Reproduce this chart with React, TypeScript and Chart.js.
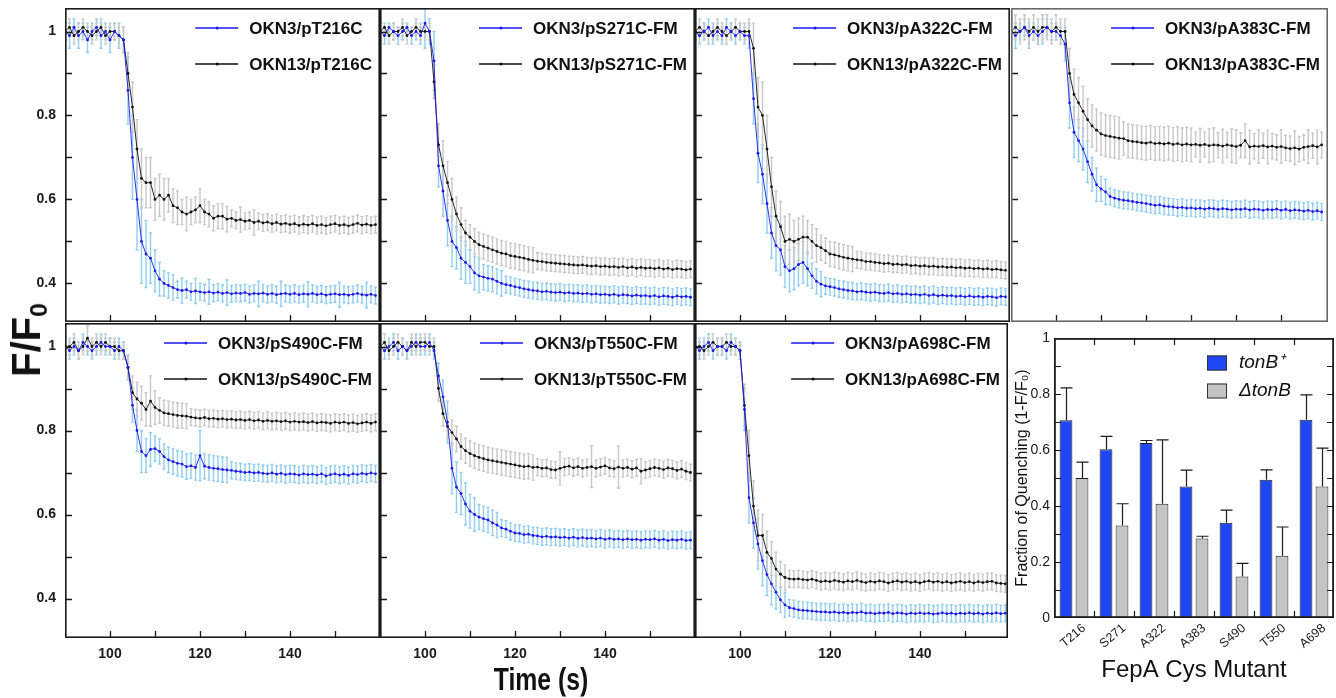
import React, { useEffect, useRef } from "react";
import { Chart, registerables } from "chart.js";

Chart.register(...registerables);

// ---------- shared axes ----------
const TIME = [
  90, 91, 92, 93, 94, 95, 96, 97, 98, 99,
  100, 101, 102, 103, 104, 105, 106, 107, 108, 109,
  110, 111, 112, 113, 114, 115, 116, 117, 118, 119,
  120, 121, 122, 123, 124, 125, 126, 127, 128, 129,
  130, 131, 132, 133, 134, 135, 136, 137, 138, 139,
  140, 141, 142, 143, 144, 145, 146, 147, 148, 149,
  150, 151, 152, 153, 154, 155, 156, 157, 158, 159,
];
const X_LABEL_VALUES = [100, 120, 140];
const X_LABELS = ["100", "120", "140"];
const X_TICK_MARKS = [100, 110, 120, 130, 140, 150];
const Y_LABEL_VALUES = [0.4, 0.6, 0.8, 1];
const Y_LABELS = ["0.4", "0.6", "0.8", "1"];
const Y_TICK_MARKS = [0.4, 0.5, 0.6, 0.7, 0.8, 0.9, 1.0];

// ---------- T216 ----------
const T216_OKN3 = [
  1.00, 0.99, 1.01, 0.99, 1.00, 0.98, 1.00, 1.01, 0.99, 1.00,
  0.98, 1.00, 0.99, 0.98, 0.86, 0.70, 0.60, 0.50, 0.47, 0.46,
  0.43, 0.41, 0.40, 0.395, 0.39, 0.385, 0.383, 0.385, 0.38, 0.382,
  0.38, 0.378, 0.38, 0.377, 0.379, 0.376, 0.378, 0.375, 0.377, 0.376,
  0.378, 0.374, 0.376, 0.375, 0.377, 0.374, 0.376, 0.373, 0.375, 0.376,
  0.374, 0.376, 0.373, 0.375, 0.374, 0.376, 0.373, 0.375, 0.372, 0.374,
  0.375, 0.373, 0.374, 0.372, 0.374, 0.376, 0.373, 0.372, 0.374, 0.371,
];
const T216_OKN3_ERR = [
  2, 3, 2, 3, 2, 3, 2, 2, 3, 2,
  3, 2, 3, 3, 8, 10, 12, 10, 8, 6,
  5, 4, 3, 3, 3, 2, 3, 2, 2, 3,
  2, 2, 3, 2, 2, 2, 3, 2, 2, 2,
  2, 2, 2, 3, 2, 2, 2, 2, 3, 2,
  2, 2, 2, 2, 3, 2, 2, 2, 2, 2,
  2, 3, 2, 2, 2, 2, 2, 3, 2, 2,
];
const T216_OKN13 = [
  1.00, 1.01, 0.99, 1.00, 1.01, 1.00, 0.99, 1.00, 1.01, 0.99,
  1.00, 1.00, 0.99, 0.98, 0.90, 0.82, 0.72, 0.65, 0.64, 0.64,
  0.60, 0.61, 0.60, 0.61, 0.585, 0.58, 0.57, 0.565, 0.57, 0.575,
  0.585, 0.57, 0.565, 0.555, 0.56, 0.56, 0.553, 0.555, 0.55, 0.552,
  0.548, 0.55, 0.545, 0.548, 0.544, 0.546, 0.542, 0.545, 0.541, 0.543,
  0.54, 0.542, 0.538, 0.541, 0.539, 0.542, 0.538, 0.54, 0.537, 0.54,
  0.542, 0.538, 0.54, 0.537, 0.54, 0.543, 0.539, 0.541, 0.538, 0.54,
];
const T216_OKN13_ERR = [
  2, 2, 2, 2, 2, 2, 2, 2, 2, 2,
  2, 2, 2, 3, 5, 6, 7, 7, 6, 6,
  5, 5, 5, 4, 4, 4, 3, 4, 3, 3,
  4, 3, 3, 3, 3, 3, 3, 2, 2, 3,
  2, 2, 3, 2, 2, 2, 2, 2, 2, 2,
  2, 2, 2, 2, 2, 2, 2, 2, 2, 2,
  2, 2, 2, 2, 2, 2, 2, 2, 2, 2,
];

// ---------- S271 ----------
const S271_OKN3 = [
  1.00, 0.99, 1.01, 1.00, 0.99, 1.00, 1.01, 0.99, 1.00, 0.99,
  1.02, 1.00, 0.93, 0.68, 0.62, 0.55, 0.50, 0.485, 0.46, 0.45,
  0.44, 0.425, 0.418, 0.415, 0.412, 0.41, 0.405, 0.40, 0.397, 0.395,
  0.392, 0.39, 0.387, 0.385, 0.383, 0.382, 0.38, 0.381, 0.379, 0.378,
  0.379, 0.377, 0.378, 0.376, 0.377, 0.375, 0.376, 0.374, 0.375, 0.373,
  0.374, 0.372, 0.374, 0.371, 0.373, 0.372, 0.37, 0.372, 0.37, 0.371,
  0.369, 0.371, 0.368, 0.37, 0.369, 0.367, 0.37, 0.368, 0.369, 0.367,
];
const S271_OKN3_ERR = [
  2, 2, 1, 2, 2, 2, 1, 2, 2, 2,
  6, 3, 7, 5, 6, 6, 6, 5, 5, 5,
  4, 4, 4, 3, 3, 3, 3, 3, 2, 2,
  2, 2, 2, 2, 2, 2, 2, 2, 2, 2,
  2, 2, 2, 2, 2, 2, 2, 2, 2, 2,
  2, 2, 2, 2, 2, 2, 2, 2, 2, 2,
  2, 2, 2, 2, 2, 2, 2, 2, 2, 2,
];
const S271_OKN13 = [
  1.00, 1.01, 0.99, 1.00, 1.00, 1.01, 0.99, 1.00, 1.01, 1.00,
  1.00, 1.00, 0.88, 0.73, 0.68, 0.64, 0.60, 0.565, 0.54, 0.52,
  0.51, 0.50, 0.492, 0.488, 0.484, 0.48, 0.476, 0.472, 0.47, 0.466,
  0.464, 0.462, 0.46, 0.457, 0.455, 0.453, 0.452, 0.45, 0.449, 0.448,
  0.447, 0.446, 0.445, 0.444, 0.443, 0.444, 0.442, 0.441, 0.442, 0.44,
  0.441, 0.439, 0.44, 0.438, 0.44, 0.437, 0.439, 0.436, 0.438, 0.436,
  0.437, 0.435, 0.437, 0.434, 0.436, 0.433, 0.435, 0.434, 0.432, 0.434,
];
const S271_OKN13_ERR = [
  2, 1, 2, 2, 1, 2, 2, 1, 2, 2,
  2, 2, 4, 5, 6, 5, 5, 4, 4, 3,
  3, 3, 3, 3, 3, 3, 3, 3, 3, 3,
  3, 3, 3, 3, 3, 2, 2, 2, 2, 2,
  2, 2, 2, 2, 2, 2, 2, 2, 2, 2,
  2, 2, 2, 2, 2, 2, 2, 2, 2, 2,
  2, 2, 2, 2, 2, 2, 2, 2, 2, 2,
];

// ---------- A322 ----------
const A322_OKN3 = [
  1.00, 0.99, 1.00, 1.01, 0.99, 1.00, 0.99, 1.01, 1.00, 0.99,
  1.00, 0.99, 0.99, 0.84, 0.71, 0.66, 0.59, 0.52, 0.49, 0.48,
  0.44, 0.43, 0.435, 0.445, 0.45, 0.435, 0.418, 0.405, 0.398, 0.394,
  0.392, 0.39, 0.387, 0.385, 0.383, 0.382, 0.38, 0.381, 0.379, 0.378,
  0.379, 0.377, 0.376, 0.378, 0.375, 0.376, 0.374, 0.375, 0.373, 0.374,
  0.372, 0.374, 0.371, 0.373, 0.37, 0.372, 0.37, 0.371, 0.369, 0.37,
  0.368, 0.37, 0.368, 0.369, 0.367, 0.369, 0.368, 0.366, 0.369, 0.368,
];
const A322_OKN3_ERR = [
  2, 2, 2, 2, 2, 2, 2, 2, 2, 2,
  2, 2, 3, 6, 7, 7, 7, 6, 6, 6,
  5, 5, 5, 5, 5, 4, 3, 3, 3, 2,
  2, 2, 2, 2, 2, 2, 2, 2, 2, 2,
  2, 2, 2, 2, 2, 2, 2, 2, 2, 2,
  2, 2, 2, 2, 2, 2, 2, 2, 2, 2,
  2, 2, 2, 2, 2, 2, 2, 2, 2, 2,
];
const A322_OKN13 = [
  1.00, 1.01, 1.00, 0.99, 1.00, 1.01, 1.00, 0.99, 1.00, 1.01,
  1.00, 1.00, 1.00, 0.96, 0.82, 0.80, 0.72, 0.63, 0.56, 0.535,
  0.50, 0.505, 0.50, 0.505, 0.51, 0.51, 0.50, 0.49, 0.485, 0.478,
  0.47, 0.468, 0.465, 0.462, 0.46, 0.458, 0.456, 0.455, 0.452, 0.452,
  0.45, 0.449, 0.447, 0.448, 0.445, 0.446, 0.444, 0.445, 0.442, 0.443,
  0.441, 0.442, 0.44, 0.441, 0.439, 0.44, 0.438, 0.439, 0.437, 0.438,
  0.436, 0.437, 0.435, 0.436, 0.434, 0.435, 0.433, 0.434, 0.432, 0.431,
];
const A322_OKN13_ERR = [
  2, 2, 2, 2, 2, 2, 2, 2, 2, 2,
  2, 2, 3, 6, 7, 8, 8, 7, 6, 6,
  6, 6, 5, 5, 5, 4, 4, 4, 3, 3,
  3, 3, 3, 3, 3, 3, 2, 2, 2, 2,
  2, 2, 2, 2, 2, 2, 2, 2, 2, 2,
  2, 2, 2, 2, 2, 2, 2, 2, 2, 2,
  2, 2, 2, 2, 2, 2, 2, 2, 2, 2,
];

// ---------- A383 ----------
const A383_OKN3 = [
  1.00, 0.99, 1.00, 1.01, 0.99, 1.00, 0.99, 1.00, 1.01, 1.00,
  1.00, 0.99, 0.97, 0.83, 0.76, 0.74, 0.72, 0.69, 0.66, 0.635,
  0.625, 0.618, 0.607, 0.603, 0.60, 0.598, 0.597, 0.595, 0.593, 0.592,
  0.59, 0.588, 0.586, 0.587, 0.584, 0.583, 0.582, 0.58, 0.581, 0.579,
  0.58, 0.578, 0.579, 0.577, 0.579, 0.578, 0.576, 0.578, 0.577, 0.575,
  0.577, 0.576, 0.578, 0.575, 0.577, 0.576, 0.574, 0.576, 0.575, 0.577,
  0.574, 0.576, 0.573, 0.575, 0.574, 0.572, 0.574, 0.571, 0.573, 0.57,
];
const A383_OKN3_ERR = [
  2, 3, 2, 2, 3, 2, 2, 3, 2, 2,
  2, 2, 4, 6, 6, 5, 5, 5, 4, 4,
  3, 3, 2, 2, 2, 2, 2, 2, 2, 2,
  2, 2, 2, 2, 2, 2, 2, 2, 2, 2,
  2, 2, 2, 2, 2, 2, 2, 2, 2, 2,
  2, 2, 2, 2, 2, 2, 2, 2, 2, 2,
  2, 2, 2, 2, 2, 2, 2, 2, 2, 2,
];
const A383_OKN13 = [
  1.00, 1.01, 1.00, 1.01, 1.00, 1.01, 1.00, 1.01, 1.01, 1.00,
  1.01, 1.00, 1.00, 0.90, 0.85, 0.83, 0.81, 0.79, 0.775, 0.765,
  0.756, 0.752, 0.75, 0.748, 0.746, 0.745, 0.74, 0.738, 0.737, 0.735,
  0.734, 0.736, 0.733, 0.734, 0.732, 0.734, 0.731, 0.733, 0.73, 0.732,
  0.73, 0.731, 0.729, 0.731, 0.728, 0.73, 0.729, 0.727, 0.73, 0.728,
  0.726, 0.729, 0.74, 0.725, 0.727, 0.726, 0.728, 0.725, 0.727, 0.724,
  0.726, 0.723, 0.721, 0.723, 0.72, 0.724, 0.726, 0.728, 0.725, 0.73,
];
const A383_OKN13_ERR = [
  3, 3, 3, 3, 3, 3, 3, 3, 3, 3,
  3, 3, 3, 6, 6, 6, 6, 5, 5, 5,
  5, 5, 5, 5, 5, 4, 4, 4, 4, 4,
  4, 4, 4, 4, 4, 4, 4, 4, 4, 4,
  4, 3, 4, 3, 4, 4, 3, 4, 3, 4,
  4, 3, 4, 4, 3, 4, 3, 4, 3, 3,
  4, 3, 3, 4, 3, 3, 4, 3, 4, 3,
];

// ---------- S490 ----------
const S490_OKN3 = [
  1.00, 0.99, 1.00, 0.99, 1.01, 1.00, 0.99, 1.00, 1.01, 1.00,
  1.00, 0.99, 1.00, 0.99, 0.95, 0.86, 0.80, 0.75, 0.74, 0.755,
  0.757, 0.75, 0.738, 0.73, 0.726, 0.722, 0.72, 0.714, 0.716, 0.712,
  0.74, 0.715, 0.712, 0.71, 0.709, 0.707, 0.706, 0.705, 0.703, 0.702,
  0.70, 0.701, 0.699, 0.70, 0.698, 0.697, 0.699, 0.696, 0.698, 0.695,
  0.697, 0.696, 0.694, 0.697, 0.695, 0.696, 0.694, 0.697, 0.692, 0.695,
  0.697, 0.694, 0.696, 0.693, 0.697, 0.695, 0.698, 0.696, 0.699, 0.697,
];
const S490_OKN3_ERR = [
  2, 2, 2, 2, 2, 2, 2, 2, 2, 2,
  2, 2, 2, 2, 3, 4, 5, 5, 4, 4,
  3, 3, 3, 3, 3, 3, 3, 3, 3, 3,
  6, 3, 3, 3, 3, 3, 3, 2, 2, 2,
  2, 2, 2, 2, 2, 2, 2, 2, 2, 2,
  2, 2, 2, 2, 2, 2, 2, 2, 2, 2,
  2, 2, 2, 2, 2, 2, 2, 2, 2, 2,
];
const S490_OKN13 = [
  1.00, 1.00, 1.01, 0.99, 1.00, 1.02, 1.00, 1.01, 1.00, 1.01,
  1.00, 1.00, 0.99, 0.99, 0.95, 0.89, 0.875, 0.865, 0.85, 0.87,
  0.855, 0.848, 0.842, 0.84, 0.838, 0.836, 0.835, 0.834, 0.832, 0.83,
  0.829, 0.831, 0.828, 0.829, 0.827, 0.828, 0.826, 0.827, 0.825, 0.826,
  0.824, 0.826, 0.823, 0.825, 0.822, 0.824, 0.822, 0.823, 0.821, 0.823,
  0.82, 0.822, 0.82, 0.821, 0.819, 0.821, 0.818, 0.82, 0.819, 0.817,
  0.82, 0.818, 0.82, 0.817, 0.819, 0.816, 0.818, 0.82, 0.817, 0.82,
];
const S490_OKN13_ERR = [
  2, 2, 2, 2, 2, 3, 2, 2, 2, 2,
  2, 2, 2, 2, 3, 4, 4, 4, 4, 6,
  4, 3, 3, 3, 3, 3, 3, 3, 2, 2,
  2, 2, 2, 2, 2, 2, 2, 2, 2, 2,
  2, 2, 2, 2, 2, 2, 2, 2, 2, 2,
  2, 2, 2, 2, 2, 2, 2, 2, 2, 2,
  2, 2, 2, 2, 2, 2, 2, 2, 2, 2,
];

// ---------- T550 ----------
const T550_OKN3 = [
  1.00, 0.99, 1.00, 1.01, 0.99, 1.00, 0.99, 1.00, 1.01, 1.00,
  1.00, 1.01, 0.99, 0.93, 0.88, 0.82, 0.71, 0.665, 0.65, 0.625,
  0.608, 0.60, 0.594, 0.59, 0.587, 0.58, 0.575, 0.568, 0.565, 0.56,
  0.556, 0.555, 0.552, 0.553, 0.55, 0.549, 0.547, 0.548, 0.546, 0.547,
  0.545, 0.546, 0.544, 0.546, 0.543, 0.545, 0.543, 0.544, 0.542, 0.544,
  0.541, 0.543, 0.541, 0.542, 0.54, 0.542, 0.54, 0.541, 0.539, 0.541,
  0.54, 0.542, 0.539, 0.541, 0.538, 0.54, 0.539, 0.541, 0.538, 0.539,
];
const T550_OKN3_ERR = [
  2, 2, 2, 2, 2, 2, 2, 2, 2, 2,
  2, 2, 2, 3, 4, 5, 6, 6, 5, 5,
  4, 4, 3, 3, 3, 3, 3, 2, 2, 2,
  2, 2, 2, 2, 2, 2, 2, 2, 2, 2,
  2, 2, 2, 2, 2, 2, 2, 2, 2, 2,
  2, 2, 2, 2, 2, 2, 2, 2, 2, 2,
  2, 2, 2, 2, 2, 2, 2, 2, 2, 2,
];
const T550_OKN13 = [
  1.00, 1.01, 0.99, 1.00, 1.01, 1.00, 0.99, 1.01, 1.00, 1.01,
  1.01, 1.00, 1.00, 0.90, 0.84, 0.81, 0.795, 0.78, 0.762, 0.752,
  0.745, 0.74, 0.736, 0.733, 0.73, 0.728, 0.726, 0.724, 0.722, 0.72,
  0.718, 0.716, 0.714, 0.715, 0.712, 0.713, 0.71, 0.711, 0.707, 0.706,
  0.71, 0.713, 0.715, 0.711, 0.714, 0.71, 0.712, 0.714, 0.71, 0.713,
  0.716, 0.711, 0.709, 0.713, 0.71, 0.712, 0.708, 0.711, 0.703, 0.706,
  0.709, 0.712, 0.71, 0.707, 0.711, 0.709, 0.705, 0.708, 0.703, 0.70,
];
const T550_OKN13_ERR = [
  2, 2, 2, 2, 2, 2, 2, 2, 2, 2,
  2, 2, 2, 3, 3, 3, 3, 3, 3, 3,
  3, 3, 3, 3, 3, 3, 3, 3, 3, 3,
  3, 3, 3, 3, 3, 2, 2, 2, 2, 2,
  4, 2, 2, 2, 2, 2, 2, 5, 2, 2,
  2, 2, 2, 5, 2, 2, 2, 2, 3, 2,
  2, 2, 2, 2, 2, 2, 2, 2, 2, 2,
];

// ---------- A698 ----------
const A698_OKN3 = [
  1.00, 0.99, 1.00, 1.01, 0.99, 1.00, 1.00, 0.99, 1.01, 1.00,
  0.99, 0.85, 0.64, 0.58, 0.53, 0.49, 0.457, 0.435, 0.415, 0.397,
  0.385, 0.378, 0.376, 0.373, 0.372, 0.371, 0.37, 0.369, 0.368, 0.368,
  0.367, 0.368, 0.366, 0.367, 0.365, 0.367, 0.366, 0.368, 0.365, 0.366,
  0.364, 0.366, 0.365, 0.367, 0.364, 0.366, 0.365, 0.363, 0.365, 0.364,
  0.366, 0.364, 0.365, 0.363, 0.364, 0.366, 0.364, 0.365, 0.363, 0.365,
  0.364, 0.366, 0.364, 0.365, 0.363, 0.365, 0.364, 0.366, 0.364, 0.365,
];
const A698_OKN3_ERR = [
  2, 2, 2, 2, 2, 2, 2, 2, 2, 2,
  2, 5, 6, 6, 6, 6, 5, 5, 4, 3,
  3, 2, 2, 2, 2, 2, 2, 2, 2, 2,
  2, 2, 2, 2, 2, 2, 2, 2, 2, 2,
  2, 2, 2, 2, 2, 2, 2, 2, 2, 2,
  2, 2, 2, 2, 2, 2, 2, 2, 2, 2,
  2, 2, 2, 2, 2, 2, 2, 2, 2, 2,
];
const A698_OKN13 = [
  1.00, 1.00, 0.99, 1.00, 1.01, 1.00, 1.00, 1.01, 1.00, 1.00,
  0.99, 0.86, 0.74, 0.62, 0.55, 0.55, 0.51, 0.495, 0.47, 0.458,
  0.45, 0.447, 0.446, 0.447, 0.445, 0.444, 0.446, 0.443, 0.44, 0.442,
  0.44, 0.443, 0.441, 0.439, 0.442, 0.44, 0.443, 0.44, 0.438, 0.441,
  0.439, 0.442, 0.44, 0.437, 0.44, 0.442, 0.439, 0.441, 0.438, 0.44,
  0.437, 0.44, 0.442, 0.439, 0.441, 0.438, 0.44, 0.437, 0.439, 0.441,
  0.438, 0.44, 0.437, 0.44, 0.438, 0.44, 0.441, 0.437, 0.436, 0.435,
];
const A698_OKN13_ERR = [
  2, 2, 2, 2, 2, 2, 2, 2, 2, 2,
  2, 5, 6, 6, 6, 5, 5, 4, 4, 3,
  3, 2, 2, 2, 2, 2, 2, 2, 2, 2,
  2, 2, 2, 2, 2, 2, 2, 2, 2, 2,
  2, 2, 2, 2, 2, 2, 2, 2, 2, 2,
  2, 2, 2, 2, 2, 2, 2, 2, 2, 2,
  2, 2, 2, 2, 2, 2, 2, 2, 2, 2,
];

// ---------- bar chart ----------
const MUTANTS = ["T216", "S271", "A322", "A383", "S490", "T550", "A698"];
const TONB_PLUS = [0.706, 0.603, 0.625, 0.47, 0.34, 0.494, 0.708];
const TONB_PLUS_ERR = [0.116, 0.046, 0.009, 0.058, 0.045, 0.035, 0.089];
const DELTA_TONB = [0.5, 0.33, 0.408, 0.284, 0.148, 0.222, 0.47];
const DELTA_TONB_ERR = [0.057, 0.078, 0.228, 0.008, 0.047, 0.103, 0.137];
const BAR_Y_LABEL_VALUES = [0, 0.2, 0.4, 0.6, 0.8, 1];
const BAR_Y_LABELS = ["0", "0.2", "0.4", "0.6", "0.8", "1"];
const BAR_Y_TICK_MARKS = [0.1, 0.2, 0.3, 0.4, 0.5, 0.6, 0.7, 0.8, 0.9];

// ---------- styling ----------
const SANS = "'Liberation Sans', Arial, sans-serif";
const BLUE = "#1a1aee";
const BLUE_ERR = "#92cdf2";
const BLACK = "#111111";
const BLACK_ERR = "#c8c8c8";
const INK = "#1a1a1a";

const zeroPad = (s: any) => {
  s.paddingTop = 0;
  s.paddingBottom = 0;
  s.paddingLeft = 0;
  s.paddingRight = 0;
};

const makeLinePlugin = (frameColor: string) => ({
  id: "linePanel",
  beforeDatasetsDraw(chart: any) {
    const { ctx, chartArea: a, scales } = chart;
    const x = scales.x, y = scales.y;
    ctx.save();
    ctx.beginPath();
    ctx.rect(a.left, a.top, a.right - a.left, a.bottom - a.top);
    ctx.clip();
    chart.data.datasets.forEach((ds: any) => {
      ctx.strokeStyle = ds.errorColor;
      ctx.lineWidth = 1.4;
      ds.data.forEach((p: any, i: number) => {
        const e = ds.errors[i];
        const px = x.getPixelForValue(p.x);
        const y1 = y.getPixelForValue(p.y + e);
        const y2 = y.getPixelForValue(p.y - e);
        ctx.beginPath();
        ctx.moveTo(px, y1);
        ctx.lineTo(px, y2);
        ctx.moveTo(px - 1.5, y1);
        ctx.lineTo(px + 1.5, y1);
        ctx.moveTo(px - 1.5, y2);
        ctx.lineTo(px + 1.5, y2);
        ctx.stroke();
      });
    });
    ctx.restore();
  },
  afterDraw(chart: any) {
    const { ctx, chartArea: a, scales } = chart;
    const x = scales.x, y = scales.y;
    ctx.save();
    ctx.strokeStyle = INK;
    ctx.lineWidth = 1.3;
    ctx.beginPath();
    Y_TICK_MARKS.forEach((v) => {
      const py = Math.round(y.getPixelForValue(v)) + 0.5;
      ctx.moveTo(a.left, py);
      ctx.lineTo(a.left + 7, py);
    });
    X_TICK_MARKS.forEach((v) => {
      const px = Math.round(x.getPixelForValue(v)) + 0.5;
      ctx.moveTo(px, a.bottom);
      ctx.lineTo(px, a.bottom - 7);
    });
    ctx.stroke();
    ctx.strokeStyle = frameColor;
    ctx.lineWidth = 1.6;
    ctx.strokeRect(a.left + 0.8, a.top + 0.8, a.right - a.left - 1.6, a.bottom - a.top - 1.6);
    // legend
    ctx.font = `bold 17px ${SANS}`;
    ctx.textBaseline = "middle";
    ctx.textAlign = "left";
    const widths = chart.data.datasets.map((ds: any) => ctx.measureText(ds.label).width);
    const maxW = Math.max(...widths);
    const textX = a.right - 8 - maxW;
    chart.data.datasets.forEach((ds: any, i: number) => {
      const ry = a.top + 20 + 36 * i;
      ctx.strokeStyle = ds.borderColor;
      ctx.lineWidth = 1.6;
      ctx.beginPath();
      ctx.moveTo(textX - 54, ry);
      ctx.lineTo(textX - 11, ry);
      ctx.stroke();
      ctx.fillStyle = ds.borderColor;
      ctx.beginPath();
      ctx.arc(textX - 32, ry, 1.5, 0, Math.PI * 2);
      ctx.fill();
      ctx.fillStyle = "#111";
      ctx.fillText(ds.label, textX, ry + 1);
    });
    ctx.restore();
  },
});

const barPlugin = {
  id: "barPanel",
  afterDatasetsDraw(chart: any) {
    const { ctx, scales } = chart;
    const y = scales.y;
    ctx.save();
    ctx.strokeStyle = INK;
    ctx.lineWidth = 1.2;
    chart.data.datasets.forEach((ds: any, di: number) => {
      const meta = chart.getDatasetMeta(di);
      meta.data.forEach((bar: any, i: number) => {
        const top = y.getPixelForValue(ds.data[i] + ds.errors[i]);
        const bx = Math.round(bar.x) + 0.5;
        ctx.beginPath();
        ctx.moveTo(bx, bar.y);
        ctx.lineTo(bx, top);
        ctx.moveTo(bx - 6, top);
        ctx.lineTo(bx + 6, top);
        ctx.stroke();
      });
    });
    ctx.restore();
  },
  afterDraw(chart: any) {
    const { ctx, chartArea: a, scales } = chart;
    const x = scales.x, y = scales.y;
    ctx.save();
    ctx.strokeStyle = INK;
    ctx.lineWidth = 1.2;
    ctx.beginPath();
    BAR_Y_TICK_MARKS.forEach((v) => {
      const py = Math.round(y.getPixelForValue(v)) + 0.5;
      ctx.moveTo(a.left, py);
      ctx.lineTo(a.left + 7, py);
      ctx.moveTo(a.right, py);
      ctx.lineTo(a.right - 7, py);
    });
    for (let i = 0; i < MUTANTS.length - 1; i++) {
      const px = Math.round((x.getPixelForValue(i) + x.getPixelForValue(i + 1)) / 2) + 0.5;
      ctx.moveTo(px, a.top);
      ctx.lineTo(px, a.top + 7);
      ctx.moveTo(px, a.bottom);
      ctx.lineTo(px, a.bottom - 7);
    }
    ctx.stroke();
    ctx.lineWidth = 1.8;
    ctx.strokeRect(a.left + 0.9, a.top + 0.9, a.right - a.left - 1.8, a.bottom - a.top - 1.8);
    ctx.font = `italic 19px ${SANS}`;
    ctx.textBaseline = "middle";
    ctx.textAlign = "left";
    chart.data.datasets.forEach((ds: any, i: number) => {
      const sx = a.right - 127;
      const cy = a.top + 25 + 28 * i;
      ctx.fillStyle = ds.backgroundColor;
      ctx.fillRect(sx, cy - 7.5, 20, 15);
      ctx.strokeStyle = "#333";
      ctx.lineWidth = 1;
      ctx.strokeRect(sx + 0.5, cy - 7, 19, 14);
      ctx.fillStyle = "#111";
      ctx.fillText(ds.label, sx + 32, cy);
    });
    ctx.restore();
  },
};

type Panel = {
  left: number; top: number; w: number; h: number;
  yAxis: boolean; xAxis: boolean; xMax: number; yMin: number; yMax: number;
  frame: string;
  labels: string[]; blue: number[]; blueErr: number[]; black: number[]; blackErr: number[];
};

const Y_AXIS_W = 55;
const X_AXIS_H = 30;

const PANELS: Panel[] = [
  { left: 65, top: 8, w: 315, h: 314, yAxis: true, xAxis: false, xMax: 160, yMin: 0.308, yMax: 1.056, frame: INK,
    labels: ["OKN3/pT216C", "OKN13/pT216C"], blue: T216_OKN3, blueErr: T216_OKN3_ERR, black: T216_OKN13, blackErr: T216_OKN13_ERR },
  { left: 380, top: 8, w: 315, h: 314, yAxis: false, xAxis: false, xMax: 160, yMin: 0.308, yMax: 1.056, frame: INK,
    labels: ["OKN3/pS271C-FM", "OKN13/pS271C-FM"], blue: S271_OKN3, blueErr: S271_OKN3_ERR, black: S271_OKN13, blackErr: S271_OKN13_ERR },
  { left: 695, top: 8, w: 315, h: 314, yAxis: false, xAxis: false, xMax: 160, yMin: 0.308, yMax: 1.056, frame: INK,
    labels: ["OKN3/pA322C-FM", "OKN13/pA322C-FM"], blue: A322_OKN3, blueErr: A322_OKN3_ERR, black: A322_OKN13, blackErr: A322_OKN13_ERR },
  { left: 1011, top: 8, w: 317, h: 314, yAxis: false, xAxis: false, xMax: 160.4, yMin: 0.308, yMax: 1.056, frame: "#6a6a6a",
    labels: ["OKN3/pA383C-FM", "OKN13/pA383C-FM"], blue: A383_OKN3, blueErr: A383_OKN3_ERR, black: A383_OKN13, blackErr: A383_OKN13_ERR },
  { left: 65, top: 323, w: 315, h: 315, yAxis: true, xAxis: true, xMax: 160, yMin: 0.306, yMax: 1.056, frame: INK,
    labels: ["OKN3/pS490C-FM", "OKN13/pS490C-FM"], blue: S490_OKN3, blueErr: S490_OKN3_ERR, black: S490_OKN13, blackErr: S490_OKN13_ERR },
  { left: 380, top: 323, w: 315, h: 315, yAxis: false, xAxis: true, xMax: 160, yMin: 0.306, yMax: 1.056, frame: INK,
    labels: ["OKN3/pT550C-FM", "OKN13/pT550C-FM"], blue: T550_OKN3, blueErr: T550_OKN3_ERR, black: T550_OKN13, blackErr: T550_OKN13_ERR },
  { left: 695, top: 323, w: 313, h: 315, yAxis: false, xAxis: true, xMax: 159.6, yMin: 0.306, yMax: 1.056, frame: INK,
    labels: ["OKN3/pA698C-FM", "OKN13/pA698C-FM"], blue: A698_OKN3, blueErr: A698_OKN3_ERR, black: A698_OKN13, blackErr: A698_OKN13_ERR },
];

function lineConfig(p: Panel): any {
  const toPts = (vals: number[]) => vals.map((v, i) => ({ x: TIME[i], y: v }));
  return {
    type: "line",
    data: {
      datasets: [
        {
          label: p.labels[0], data: toPts(p.blue), errors: p.blueErr.map((e) => e / 100), errorColor: BLUE_ERR,
          borderColor: BLUE, backgroundColor: BLUE, borderWidth: 0.9, pointRadius: 1.4, pointBorderWidth: 0, tension: 0,
        },
        {
          label: p.labels[1], data: toPts(p.black), errors: p.blackErr.map((e) => e / 100), errorColor: BLACK_ERR,
          borderColor: BLACK, backgroundColor: BLACK, borderWidth: 0.9, pointRadius: 1.4, pointBorderWidth: 0, tension: 0,
        },
      ],
    },
    options: {
      animation: false,
      responsive: false,
      devicePixelRatio: 1,
      events: [],
      layout: { padding: 0, autoPadding: false },
      plugins: { legend: { display: false }, tooltip: { enabled: false } },
      scales: {
        x: {
          type: "linear", min: 90, max: p.xMax, display: p.xAxis,
          grid: { display: false, drawTicks: false }, border: { display: false },
          afterBuildTicks: (s: any) => { s.ticks = X_LABEL_VALUES.map((v) => ({ value: v })); },
          afterFit: (s: any) => { s.height = p.xAxis ? X_AXIS_H : 0; zeroPad(s); },
          ticks: {
            callback: (_v: any, i: number) => X_LABELS[i], padding: 8, maxRotation: 0, autoSkip: false,
            color: "#1a1a1a", font: { family: SANS, size: 14, weight: "bold" },
          },
        },
        y: {
          type: "linear", min: p.yMin, max: p.yMax, display: p.yAxis,
          grid: { display: false, drawTicks: false }, border: { display: false },
          afterBuildTicks: (s: any) => { s.ticks = Y_LABEL_VALUES.map((v) => ({ value: v })); },
          afterFit: (s: any) => { s.width = p.yAxis ? Y_AXIS_W : 0; zeroPad(s); },
          ticks: {
            callback: (_v: any, i: number) => Y_LABELS[i], padding: 9, autoSkip: false,
            color: "#1a1a1a", font: { family: SANS, size: 14, weight: "bold" },
          },
        },
      },
    },
    plugins: [makeLinePlugin(p.frame)],
  };
}

function barConfig(): any {
  return {
    type: "bar",
    data: {
      labels: MUTANTS,
      datasets: [
        { label: "tonB⁺", data: TONB_PLUS, errors: TONB_PLUS_ERR, backgroundColor: "#1f47f2", borderColor: "#202020", borderWidth: 1, categoryPercentage: 0.8, barPercentage: 0.8 },
        { label: "ΔtonB", data: DELTA_TONB, errors: DELTA_TONB_ERR, backgroundColor: "#c4c4c4", borderColor: "#202020", borderWidth: 1, categoryPercentage: 0.8, barPercentage: 0.8 },
      ],
    },
    options: {
      animation: false,
      responsive: false,
      devicePixelRatio: 1,
      events: [],
      layout: { padding: { top: 10, right: 2, left: 0, bottom: 0 }, autoPadding: false },
      plugins: { legend: { display: false }, tooltip: { enabled: false } },
      scales: {
        x: {
          type: "category",
          grid: { display: false, drawTicks: false }, border: { display: false },
          afterFit: (s: any) => { s.height = 80; zeroPad(s); },
          ticks: {
            minRotation: 40, maxRotation: 40, padding: 3, labelOffset: 10, autoSkip: false,
            color: "#1a1a1a", font: { family: SANS, size: 12.5 },
          },
          title: {
            display: true, text: "FepA Cys Mutant", color: "#111",
            font: { family: SANS, size: 24 }, padding: { top: 0, bottom: 13 },
          },
        },
        y: {
          min: 0, max: 1,
          grid: { display: false, drawTicks: false }, border: { display: false },
          afterBuildTicks: (s: any) => { s.ticks = BAR_Y_LABEL_VALUES.map((v) => ({ value: v })); },
          afterFit: (s: any) => { s.width = 44; zeroPad(s); },
          ticks: {
            callback: (_v: any, i: number) => BAR_Y_LABELS[i], padding: 4, autoSkip: false,
            color: "#1a1a1a", font: { family: SANS, size: 14 },
          },
          title: {
            display: true, text: "Fraction of Quenching (1-F/F₀)", color: "#111",
            font: { family: SANS, size: 16 }, padding: { top: 3, bottom: 0 },
          },
        },
      },
    },
    plugins: [barPlugin],
  };
}

function ChartBox({ left, top, width, height, make }: any) {
  const ref = useRef<HTMLCanvasElement | null>(null);
  useEffect(() => {
    const chart = new Chart(ref.current as HTMLCanvasElement, make());
    return () => chart.destroy();
  }, []);
  return (
    <canvas
      ref={ref}
      width={width}
      height={height}
      style={{ position: "absolute", left, top, width, height }}
    />
  );
}

export default function App() {
  return (
    <div style={{ position: "absolute", left: 0, top: 0, width: 1336, height: 698, background: "#fff", overflow: "hidden" }}>
      {PANELS.map((p, i) => {
        const cl = p.yAxis ? p.left - Y_AXIS_W : p.left;
        const cw = p.yAxis ? p.w + Y_AXIS_W : p.w;
        const ch = p.xAxis ? p.h + X_AXIS_H : p.h;
        return <ChartBox key={i} left={cl} top={p.top} width={cw} height={ch} make={() => lineConfig(p)} />;
      })}
      <ChartBox left={1010} top={328} width={326} height={370} make={barConfig} />
      <div
        style={{
          position: "absolute", left: 26, top: 340, transform: "translate(-50%, -50%) rotate(-90deg)",
          font: `bold 40px ${SANS}`, color: "#111", whiteSpace: "nowrap", lineHeight: 1,
        }}
      >
        F/F<span style={{ fontSize: "62%", position: "relative", top: "0.3em" }}>0</span>
      </div>
      <div
        style={{
          position: "absolute", left: 541, top: 679, transform: "translate(-50%, -50%) scaleX(0.8)",
          font: `bold 31px ${SANS}`, color: "#111", whiteSpace: "nowrap", lineHeight: 1,
        }}
      >
        Time (s)
      </div>
    </div>
  );
}
